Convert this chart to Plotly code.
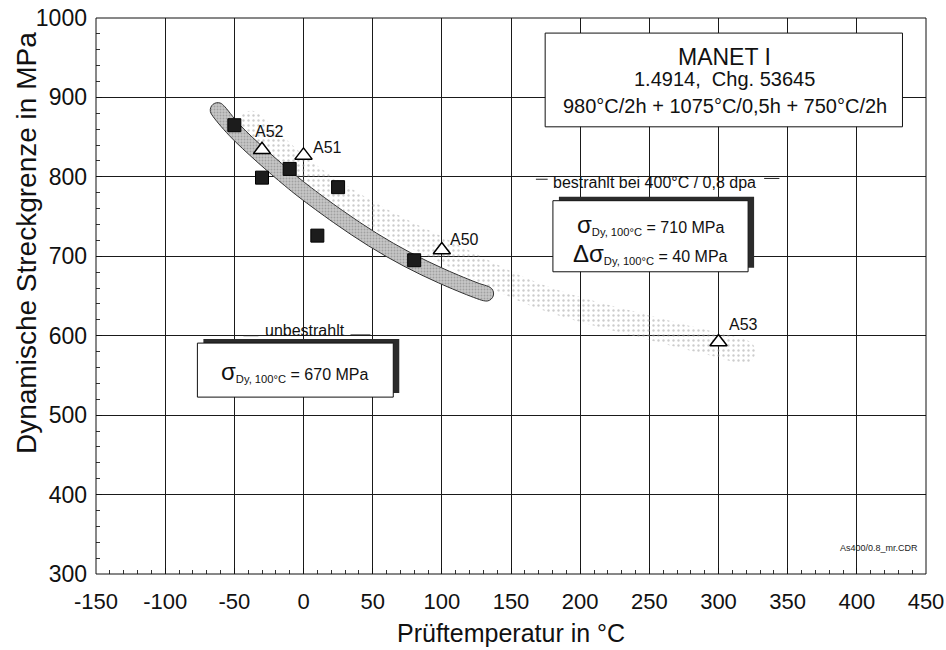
import numpy as np
import plotly.graph_objects as go

# Messwerte unbestrahlt (gefüllte Quadrate)
temp_unbestrahlt = [-50, -30, -10, 10, 25, 80]
rp_unbestrahlt = [865, 799, 810, 726, 787, 695]

# Messwerte bestrahlt bei 400 °C / 0,8 dpa (offene Dreiecke)
temp_bestrahlt = [100, 0, -30, 300]
rp_bestrahlt = [708, 827, 834, 592]
probe_bestrahlt = ["A50", "A51", "A52", "A53"]

# Streuband unbestrahlt (Mittellinie)
band_unbestr_t = [-62, -50, -30, -10, 0, 25, 50, 75, 100, 125, 132]
band_unbestr_rp = [884, 859, 826, 796, 782, 750, 721, 696, 675, 657, 653]

# Streuband bestrahlt (Mittellinie)
band_bestr_t = [-38, 0, 50, 100, 170, 250, 300, 318]
band_bestr_rp = [868, 808, 752, 708, 650, 610, 588, 580]

x_ticks = list(range(-150, 451, 50))
x_ticktext = [str(v) for v in x_ticks]
y_ticks = list(range(300, 1001, 100))

W, H = 946, 650
MARGIN = dict(l=96, r=20, t=18, b=76)
X_RANGE = (-150, 450)
Y_RANGE = (300, 1000)
PX_X = (W - MARGIN["l"] - MARGIN["r"]) / (X_RANGE[1] - X_RANGE[0])
PX_Y = (H - MARGIN["t"] - MARGIN["b"]) / (Y_RANGE[1] - Y_RANGE[0])
FONT = "Liberation Sans, Arial, sans-serif"


def band_outline(t, rp, half_px, cap_pts=7):
    """Closed outline of a band of constant pixel width around a centre line."""
    px = np.asarray(t, float) * PX_X
    py = np.asarray(rp, float) * PX_Y
    dx, dy = np.gradient(px), np.gradient(py)
    n = np.hypot(dx, dy)
    nx, ny = -dy / n, dx / n
    ux, uy = px + half_px * nx, py + half_px * ny
    lx, ly = px - half_px * nx, py - half_px * ny
    a1 = np.arctan2(dy[-1], dx[-1])
    ea = np.linspace(a1 + np.pi / 2, a1 - np.pi / 2, cap_pts)[1:-1]
    a0 = np.arctan2(dy[0], dx[0])
    sa = np.linspace(a0 - np.pi / 2, a0 - 3 * np.pi / 2, cap_pts)[1:-1]
    xs = np.concatenate([ux, px[-1] + half_px * np.cos(ea), lx[::-1],
                         px[0] + half_px * np.cos(sa), ux[:1]])
    ys = np.concatenate([uy, py[-1] + half_px * np.sin(ea), ly[::-1],
                         py[0] + half_px * np.sin(sa), uy[:1]])
    return xs / PX_X, ys / PX_Y


fig = go.Figure()

bx, by = band_outline(band_bestr_t, band_bestr_rp, 12)
fig.add_trace(go.Scatter(
    x=bx, y=by, mode="lines", fill="toself", line=dict(width=0, shape="spline"),
    fillcolor="rgba(228,228,228,0.35)",
    fillpattern=dict(shape=".", fgcolor="#9a9a9a", bgcolor="rgba(0,0,0,0)",
                     size=5, solidity=0.18),
    hoverinfo="skip", showlegend=False))

ux, uy = band_outline(band_unbestr_t, band_unbestr_rp, 7.5)
fig.add_trace(go.Scatter(
    x=ux, y=uy, mode="lines", fill="toself",
    line=dict(width=1, color="#333", shape="spline"),
    fillcolor="#bdbdbd",
    fillpattern=dict(shape=".", fgcolor="#7a7a7a", bgcolor="#c6c6c6",
                     size=3, solidity=0.3),
    hoverinfo="skip", showlegend=False))

fig.add_trace(go.Scatter(
    x=temp_unbestrahlt, y=rp_unbestrahlt, mode="markers", name="unbestrahlt",
    marker=dict(symbol="square", size=13, color="#1c1c1c",
                line=dict(width=1, color="#000")),
    showlegend=False))

fig.add_trace(go.Scatter(
    x=temp_bestrahlt, y=rp_bestrahlt, mode="markers", name="bestrahlt",
    marker=dict(symbol="triangle-up", size=15, color="white",
                line=dict(width=1.5, color="#000")),
    showlegend=False))

# Probenbezeichnungen neben den Dreiecken (Versatz in Pixeln)
label_shift = {"A50": (6, 10), "A51": (7, 8), "A52": (-9, 18), "A53": (8, 18)}
annotations = []
for t, rp, name in zip(temp_bestrahlt, rp_bestrahlt, probe_bestrahlt):
    sx, sy = label_shift[name]
    annotations.append(dict(x=t, y=rp, text=name, showarrow=False, xanchor="left",
                            yanchor="middle", xshift=sx, yshift=sy,
                            font=dict(size=16, color="#111", family=FONT)))

shapes = [dict(type="rect", xref="paper", yref="paper", x0=0, x1=1, y0=0, y1=1,
               line=dict(width=1, color="#111"), fillcolor="rgba(0,0,0,0)", layer="above")]


def framed_box(x0, x1, y0, y1, shadow):
    if shadow:
        sx, sy = 6 / PX_X, 4 / PX_Y
        shapes.append(dict(type="rect", xref="x", yref="y", x0=x0 + sx, x1=x1 + sx,
                           y0=y0 + sy, y1=y1 + sy, fillcolor="#2b2b2b",
                           line=dict(width=0), layer="above"))
    shapes.append(dict(type="rect", xref="x", yref="y", x0=x0, x1=x1, y0=y0, y1=y1,
                       fillcolor="white", line=dict(width=1, color="#111"),
                       layer="above"))


def seg(x0, x1, y):
    shapes.append(dict(type="line", xref="x", yref="y", x0=x0, x1=x1, y0=y, y1=y,
                       line=dict(width=1, color="#222"), layer="above"))


framed_box(174.7, 433, 863, 981, shadow=False)
framed_box(180.3, 321.4, 680.5, 770, shadow=True)
framed_box(-76.7, 64.9, 522.7, 590.7, shadow=True)

seg(168, 176.5, 797)
seg(333, 344, 798)
seg(-43.4, -32.6, 600)
seg(34, 48.4, 601)

sig = '<span style="font-size:24px">σ</span>'
dsig = '<span style="font-size:24px">Δσ</span>'
sub = "<sub>Dy, 100°C</sub>"

text_items = [
    (304.4, 951, "MANET I", 23),
    (304.4, 923, "1.4914,  Chg. 53645", 20),
    (304.4, 889, "980°C/2h + 1075°C/0,5h + 750°C/2h", 20),
    (253.8, 792.5, "bestrahlt bei 400°C / 0,8 dpa", 16),
    (251, 739.5, f"{sig}{sub} = 710 MPa", 16),
    (251, 704, f"{dsig}{sub} = 40 MPa", 16),
    (1.3, 607, "unbestrahlt", 16),
    (-6.5, 554.5, f"{sig}{sub} = 670 MPa", 16),
]
for x, y, txt, size in text_items:
    annotations.append(dict(x=x, y=y, text=txt, showarrow=False, xanchor="center",
                            yanchor="middle", font=dict(size=size, color="#111", family=FONT)))

annotations.append(dict(xref="paper", yref="paper", x=0.993, y=0.047, text="As400/0.8_mr.CDR",
                        showarrow=False, xanchor="right", yanchor="middle",
                        font=dict(size=9, color="#222", family=FONT)))

# Achsentitel
annotations.append(dict(xref="paper", yref="paper", x=(26 - 96) / 830, y=(574 - 243) / 556,
                        text="Dynamische Streckgrenze in MPa", textangle=-90, showarrow=False,
                        xanchor="center", yanchor="middle",
                        font=dict(size=28, color="#111", family=FONT)))
annotations.append(dict(xref="paper", yref="paper", x=0.5, y=(574 - 633) / 556,
                        text="Prüftemperatur in °C", showarrow=False,
                        xanchor="center", yanchor="middle",
                        font=dict(size=25, color="#111", family=FONT)))

axis_common = dict(showgrid=True, gridcolor="#1a1a1a", gridwidth=1, zeroline=False,
                   showline=False, mirror=False, automargin=False,
                   ticks="inside", ticklen=6, tickcolor="#111")

fig.update_layout(
    width=W, height=H, margin=MARGIN, plot_bgcolor="white", paper_bgcolor="white",
    xaxis=dict(range=list(X_RANGE), tickvals=x_ticks, ticktext=x_ticktext,
               ticklabelstandoff=12, tickfont=dict(size=22, color="#111", family=FONT),
               minor=dict(dtick=10, ticks="inside", ticklen=4, tickcolor="#333",
                          showgrid=False), **axis_common),
    yaxis=dict(range=list(Y_RANGE), tickvals=y_ticks, ticklabelstandoff=8,
               tickfont=dict(size=23, color="#111", family=FONT),
               minor=dict(dtick=20, ticks="inside", ticklen=4, tickcolor="#333",
                          showgrid=False), **axis_common),
    shapes=shapes, annotations=annotations, showlegend=False,
)

fig.write_html("out.html")
